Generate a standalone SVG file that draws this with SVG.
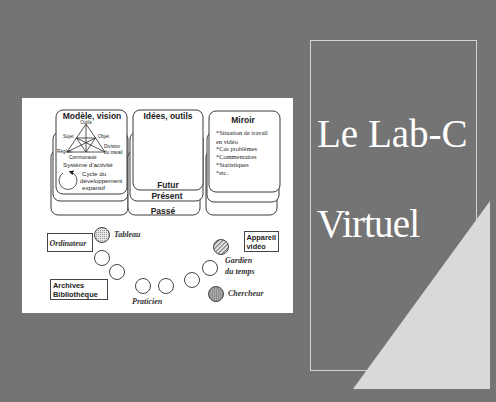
<svg xmlns="http://www.w3.org/2000/svg" width="496" height="402" viewBox="0 0 496 402">
<defs>
<style>
.bx{fill:#fff;stroke:#3a3a3a;stroke-width:1}
.ttl{font-family:"Liberation Sans",Arial,sans-serif;font-weight:bold;fill:#222;font-size:8.5px}
.sm{font-family:"Liberation Sans",Arial,sans-serif;fill:#222;font-size:4.6px}
.med{font-family:"Liberation Sans",Arial,sans-serif;fill:#222;font-size:6.2px}
.mir{font-family:"Liberation Serif","Times New Roman",serif;fill:#222;font-size:6.4px}
.it{font-family:"Liberation Serif","Times New Roman",serif;font-weight:bold;font-style:italic;fill:#333;font-size:8px}
.lab{font-family:"Liberation Sans",Arial,sans-serif;font-weight:bold;fill:#222;font-size:7.4px}
.ci{fill:#fff;stroke:#444;stroke-width:1}
.ln{fill:none;stroke:#2a2a2a;stroke-width:0.8}
.big{font-family:"Liberation Serif","Times New Roman",serif;fill:#fff;font-size:39px}
</style>
<pattern id="dots" width="2" height="2" patternUnits="userSpaceOnUse"><rect width="2" height="2" fill="#e6e6e6"/><rect width="1" height="1" fill="#9a9a9a"/></pattern>
<pattern id="hatch" width="3" height="3" patternUnits="userSpaceOnUse" patternTransform="rotate(45)"><rect width="3" height="3" fill="#eee"/><rect width="1.2" height="3" fill="#777"/></pattern>
<pattern id="vert" width="2" height="2" patternUnits="userSpaceOnUse"><rect width="2" height="2" fill="#a8a8a8"/><rect width="0.8" height="2" fill="#888"/></pattern>
<marker id="ah" markerWidth="5" markerHeight="5" refX="2.5" refY="2.5" orient="auto" markerUnits="userSpaceOnUse"><path d="M0,0 L5,2.5 L0,5 Z" fill="#222"/></marker>
</defs>
<rect width="496" height="402" fill="#747474"/>
<g id="right-panel">
<rect x="310.5" y="40.5" width="166" height="330" fill="none" stroke="#d4d4d4" stroke-width="1"/>
<polygon points="490,201 490,389 353,389" fill="#d9d9d9"/>
<text class="big" x="317" y="147">Le Lab-C</text>
<text class="big" x="317" y="237" textLength="103">Virtuel</text>
</g>
<rect id="picture" x="22" y="98" width="271" height="215" fill="#fff"/>
<g id="modele">
<rect class="bx" x="51" y="150" width="77" height="65" rx="7"/>
<rect class="bx" x="53" y="132" width="75" height="69" rx="7"/>
<rect class="bx" x="56" y="110" width="71" height="84" rx="7"/>
<text class="ttl" x="92" y="118.5" text-anchor="middle">Modèle, vision</text>
<g class="ln">
<path d="M86,124 L67,152 L105,152 Z"/>
<path d="M76.5,138 L95.5,138 L86,152 Z"/>
<path d="M86,124 L86,152 M67,152 L95.5,138 M105,152 L76.5,138"/>
</g>
<text class="sm" x="86" y="123.5" text-anchor="middle">Outils</text>
<text class="sm" x="63" y="138">Sujet</text>
<text class="sm" x="98" y="138">Objet</text>
<text class="sm" x="57" y="153">Règles</text>
<text class="sm" x="69" y="159">Communauté</text>
<text class="sm" x="104" y="148">Division</text>
<text class="sm" x="104" y="154">du travail</text>
<text class="med" x="63" y="167">Système d'activité</text>
<text class="med" x="82" y="176">Cycle du</text>
<text class="med" x="80" y="183">développement</text>
<text class="med" x="82" y="190">expansif</text>
<path class="ln" d="M63,173 A9,9 0 1 0 71,172" marker-end="url(#ah)" stroke-width="1.2"/>
</g>
<g id="idees">
<rect class="bx" x="128" y="150" width="72" height="65" rx="7"/>
<rect class="bx" x="130" y="132" width="73" height="69" rx="7"/>
<rect class="bx" x="133" y="110" width="70" height="80" rx="7"/>
<text class="ttl" x="168" y="119" text-anchor="middle">Idées, outils</text>
<text class="ttl" x="168" y="188" text-anchor="middle">Futur</text>
<text class="ttl" x="167" y="199" text-anchor="middle">Présent</text>
<text class="ttl" x="163" y="214" text-anchor="middle">Passé</text>
</g>
<g id="miroir">
<rect class="bx" x="206" y="150" width="71" height="65" rx="7"/>
<rect class="bx" x="207" y="132" width="72" height="70" rx="7"/>
<rect class="bx" x="209" y="111" width="71" height="81" rx="7"/>
<text class="ttl" x="243" y="123" text-anchor="middle">Miroir</text>
<text class="mir" x="216" y="135">*Situation de travail</text>
<text class="mir" x="216" y="144">en vidéo</text>
<text class="mir" x="216" y="151">*Cas problèmes</text>
<text class="mir" x="216" y="159">*Commentaires</text>
<text class="mir" x="216" y="167">*Statistiques</text>
<text class="mir" x="216" y="175">*etc.</text>
</g>
<g id="ordinateur">
<rect x="47.5" y="233.5" width="45" height="18" fill="#fff" stroke="#444"/>
<text class="it" x="49.5" y="245.5">Ordinateur</text>
</g>
<g id="archives">
<rect x="50.5" y="279.5" width="57" height="20" fill="#fff" stroke="#444"/>
<text class="lab" x="53" y="288">Archives</text>
<text class="lab" x="53" y="297">Bibliothèque</text>
</g>
<g id="appareil">
<rect x="244.5" y="231.5" width="34" height="20" fill="#fff" stroke="#444"/>
<text class="lab" x="246.5" y="240">Appareil</text>
<text class="lab" x="246.5" y="249">vidéo</text>
</g>
<g id="seats">
<circle cx="102" cy="235" r="7.5" fill="url(#dots)" stroke="#444"/>
<text class="it" x="114" y="237">Tableau</text>
<circle class="ci" cx="102" cy="258" r="7.5"/>
<circle class="ci" cx="117" cy="272" r="7.5"/>
<circle class="ci" cx="143" cy="286" r="7.5"/>
<circle class="ci" cx="166" cy="286" r="7.5"/>
<text class="it" x="132" y="304">Praticien</text>
<circle class="ci" cx="192" cy="280" r="7.5"/>
<circle class="ci" cx="210" cy="268" r="7.5"/>
<text class="it" x="225" y="263">Gardien</text>
<text class="it" x="225" y="274">du temps</text>
<circle cx="221" cy="247" r="7.5" fill="url(#hatch)" stroke="#444"/>
<circle cx="216" cy="294" r="7.5" fill="url(#vert)" stroke="#444"/>
<text class="it" x="228" y="296">Chercheur</text>
</g>
</svg>
